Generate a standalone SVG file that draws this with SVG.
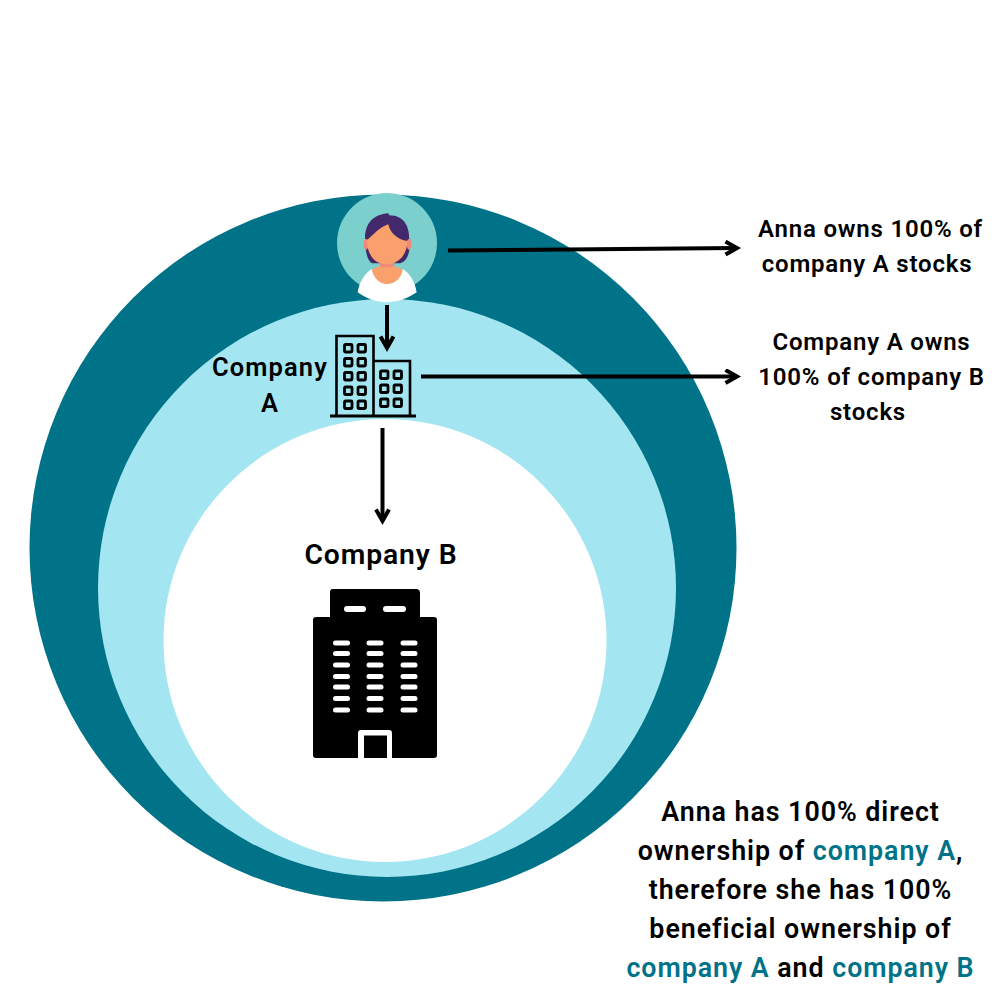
<svg xmlns="http://www.w3.org/2000/svg" width="1000" height="1000" viewBox="0 0 1000 1000">
<style>
text{font-family:"Roboto","Liberation Sans",sans-serif;font-weight:600;font-size:24px;fill:#000;text-anchor:middle;letter-spacing:.8px}
.l{font-size:25.5px;letter-spacing:1.1px}
.b{font-size:28.300px;letter-spacing:.9px}
.n{font-size:26.800px;letter-spacing:.95px}
.t{fill:#007388}
.c{stroke:#000;stroke-width:4;fill:none}
.w{fill:none;stroke:#000;stroke-width:2.6}
.s{fill:#fff}
</style>
<defs>
<marker id="a" markerUnits="userSpaceOnUse" markerWidth="18" markerHeight="18" refX="13" refY="8" orient="auto"><path d="M1.5 1.5L13 8L1.5 14.500" fill="none" stroke="#000" stroke-width="4"/></marker>
<rect id="win" width="7.500" height="7.500" rx="1"/>
<rect id="slot" width="17" height="5" rx="2.500"/>
</defs>
<rect width="1000" height="1000" fill="#fff"/>
<g id="rings">
<circle cx="383" cy="548" r="353.500" fill="#007388"/>
<circle cx="387" cy="588" r="289" fill="#a3e6f1"/>
<circle cx="385" cy="640.500" r="221.500" fill="#fff"/>
</g>
<g id="anna">
<circle cx="387" cy="243" r="50" fill="#7bd0cd"/>
<g transform="translate(320 185) scale(.33333)">
<path d="M135 160C135 115 160 88 205 85L208 91C250 92 268 120 268 165L268 195C265 215 255 235 235 235L160 235C145 235 135 205 135 160Z" fill="#43286b"/>
<ellipse cx="138" cy="178" rx="7" ry="16" fill="#ef8a78"/>
<ellipse cx="267" cy="178" rx="7" ry="16" fill="#ef8a78"/>
<path d="M180 230H222V246Q200 250 180 246Z" fill="#ef8a78"/>
<path d="M141 165C160 150 180 125 205 118C210 145 235 165 262 168C262 210 235 238 200 238C165 238 141 210 141 165Z" fill="#f9a06c"/>
<path d="M178 243Q200 250 224 243L250 255L240 285L200 300L165 285L152 255Z" fill="#f9a06c"/>
<path d="M155 252C160 280 180 297 200 297C225 297 245 280 248 252C270 265 285 290 290 322C262 342 230 352 200 352C170 352 140 342 113 322C118 290 135 265 155 252Z" fill="#fff"/>
</g>
</g>
<g id="company-a">
<path class="w" d="M336.500 416V336H373.500V416M373.500 361H410V416"/>
<path d="M330 416H416" stroke="#000" stroke-width="3" fill="none"/>
<g fill="none" stroke="#000" stroke-width="2.800">
<use href="#win" x="344.500" y="344.500"/><use href="#win" x="358" y="344.500"/>
<use href="#win" x="344.500" y="358.500"/><use href="#win" x="358" y="358.500"/>
<use href="#win" x="344.500" y="372.500"/><use href="#win" x="358" y="372.500"/>
<use href="#win" x="344.500" y="387"/><use href="#win" x="358" y="387"/>
<use href="#win" x="344.500" y="401"/><use href="#win" x="358" y="401"/>
<use href="#win" x="380.500" y="371"/><use href="#win" x="394" y="371"/>
<use href="#win" x="380.500" y="385"/><use href="#win" x="394" y="385"/>
<use href="#win" x="380.500" y="399"/><use href="#win" x="394" y="399"/>
</g>
<text class="l" x="270" y="376">Company</text>
<text class="l" x="270" y="412">A</text>
</g>
<g id="company-b">
<text class="b" x="381" y="564">Company B</text>
<path d="M333 589H416Q420 589 420 593V617H434Q437 617 437 620V755Q437 758 434 758H316Q313 758 313 755V620Q313 617 316 617H330V592Q330 589 333 589Z" fill="#000"/>
<rect class="s" x="344" y="606" width="22" height="6" rx="3"/><rect class="s" x="383" y="606" width="23" height="6" rx="3"/>
<g class="s">
<use href="#slot" x="333" y="640.500"/><use href="#slot" x="366.500" y="640.500"/><use href="#slot" x="400.500" y="640.500"/>
<use href="#slot" x="333" y="651"/><use href="#slot" x="366.500" y="651"/><use href="#slot" x="400.500" y="651"/>
<use href="#slot" x="333" y="662.500"/><use href="#slot" x="366.500" y="662.500"/><use href="#slot" x="400.500" y="662.500"/>
<use href="#slot" x="333" y="674"/><use href="#slot" x="366.500" y="674"/><use href="#slot" x="400.500" y="674"/>
<use href="#slot" x="333" y="684.500"/><use href="#slot" x="366.500" y="684.500"/><use href="#slot" x="400.500" y="684.500"/>
<use href="#slot" x="333" y="696"/><use href="#slot" x="366.500" y="696"/><use href="#slot" x="400.500" y="696"/>
<use href="#slot" x="333" y="707.500"/><use href="#slot" x="366.500" y="707.500"/><use href="#slot" x="400.500" y="707.500"/>
</g>
<path class="s" d="M358 758V733Q358 730 361 730H389Q392 730 392 733V758H387V735.500H364V758Z"/>
</g>
<g id="connectors">
<path class="c" d="M448 250.500L737 248" marker-end="url(#a)"/>
<path class="c" d="M387 305V348" marker-end="url(#a)"/>
<path class="c" d="M421 376.500H737" marker-end="url(#a)"/>
<path class="c" d="M382.500 428V521" marker-end="url(#a)"/>
</g>
<g id="notes">
<text x="870.500" y="237">Anna owns 100% of</text>
<text x="867" y="272">company A stocks</text>
<text x="871.500" y="350">Company A owns</text>
<text x="871.500" y="385">100% of company B</text>
<text x="868" y="420">stocks</text>
<text class="n" x="800.500" y="821">Anna has 100% direct</text>
<text class="n" x="800.500" y="860">ownership of <tspan class="t">company A</tspan>,</text>
<text class="n" x="800.500" y="899">therefore she has 100%</text>
<text class="n" x="800.500" y="938">beneficial ownership of</text>
<text class="n" x="800.500" y="977"><tspan class="t">company A</tspan> and <tspan class="t">company B</tspan></text>
</g>
</svg>
